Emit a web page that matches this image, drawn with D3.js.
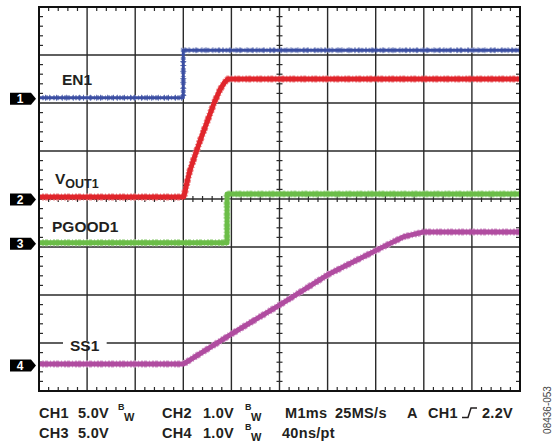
<!DOCTYPE html>
<html><head><meta charset="utf-8">
<script src="https://cdn.jsdelivr.net/npm/d3@7"></script>
<style>
html,body{margin:0;padding:0;background:#fff;}
svg{display:block;font-family:Arial,"Liberation Sans",Helvetica,sans-serif;}
</style></head>
<body>
<svg id="c" width="553" height="446"></svg>
<script>
// ---- data ----
const channelNames = ["EN1", "VOUT1", "PGOOD1", "SS1"];
const channelNumbers = ["1", "2", "3", "4"];
const channelColors = ["#3b4ea2", "#e0252b", "#6bbd48", "#b04ca0"];
const voltsPerDiv = [5, 1, 5, 1];
const groundDiv = [6.09, 3.99, 3.07, 0.53];   // channel ground markers, in divisions from bottom
// time in ms (1 ms/div), value in volts
const en1 = [[0, 0.1], [3.0, 0.1], [3.0, 5.05], [10, 5.05]];
const vout1 = [[0, 0.05], [3.01, 0.05], [3.09, 0.41], [3.14, 0.61], [3.26, 0.97], [3.38, 1.31], [3.51, 1.66], [3.64, 2.01], [3.76, 2.28], [3.85, 2.43], [3.93, 2.51], [10, 2.51]];
const pgood1 = [[0, 0.1], [3.91, 0.1], [3.91, 5.16], [10, 5.16]];
const ss1 = [[0, 0.03], [3.0, 0.03], [4.04, 0.68], [5.0, 1.26], [6.0, 1.89], [7.03, 2.41], [7.57, 2.68], [7.98, 2.78], [10, 2.78]];
const traces = [en1, vout1, pgood1, ss1];
const xDivs = d3.range(0, 11);
const yDivs = d3.range(0, 9);
const footerRow1 = ["CH1", "5.0V", "CH2", "1.0V", "M1ms", "25MS/s", "A", "CH1", "2.2V"];
const footerRow2 = ["CH3", "5.0V", "CH4", "1.0V", "40ns/pt"];
const figId = "08436-053";

// ---- layout ----
const svg = d3.select("#c");
const L = 39, R = 520, T = 7, B = 391;
const x = d3.scaleLinear().domain([0, 10]).range([L, R]);
const y = d3.scaleLinear().domain([0, 8]).range([B, T]);

// grid
const g = svg.append("g");
g.selectAll(".vx").data(xDivs.slice(1, -1)).join("line")
  .attr("x1", d => x(d)).attr("x2", d => x(d)).attr("y1", T).attr("y2", B)
  .attr("stroke", "#2a2a2a").attr("stroke-width", 1.4);
g.selectAll(".hy").data(yDivs.slice(1, -1)).join("line")
  .attr("y1", d => y(d)).attr("y2", d => y(d)).attr("x1", L).attr("x2", R)
  .attr("stroke", "#2a2a2a").attr("stroke-width", 1.4);

// minor ticks
const minorX = d3.range(0, 50).map(i => i / 5).filter(v => v % 1 !== 0);
const minorY = d3.range(0, 40).map(i => i / 5).filter(v => v % 1 !== 0);
const tk = svg.append("g").attr("stroke", "#2a2a2a").attr("stroke-width", 1.2);
minorX.forEach(v => {
  tk.append("line").attr("x1", x(v)).attr("x2", x(v)).attr("y1", T).attr("y2", T + 4);
  tk.append("line").attr("x1", x(v)).attr("x2", x(v)).attr("y1", B).attr("y2", B - 4);
  tk.append("line").attr("x1", x(v)).attr("x2", x(v)).attr("y1", y(4) - 3).attr("y2", y(4) + 3);
});
minorY.forEach(v => {
  tk.append("line").attr("y1", y(v)).attr("y2", y(v)).attr("x1", L).attr("x2", L + 4);
  tk.append("line").attr("y1", y(v)).attr("y2", y(v)).attr("x1", R).attr("x2", R - 4);
  tk.append("line").attr("y1", y(v)).attr("y2", y(v)).attr("x1", x(5) - 3).attr("x2", x(5) + 3);
});

// traces
const line = (ci) => d3.line()
  .x(d => x(d[0]))
  .y(d => y(groundDiv[ci] + d[1] / voltsPerDiv[ci]));
const widths = [3, 5, 5, 5];
const order = [3, 2, 1, 0];
order.forEach(ci => {
  const light = d3.interpolateRgb(channelColors[ci], "#fff")(0.45);
  svg.append("path").attr("d", line(ci)(traces[ci]))
    .attr("fill", "none").attr("stroke", light).attr("stroke-width", widths[ci] + 2)
    .attr("stroke-dasharray", "1,2,2,1,3,2").attr("stroke-linejoin", "miter");
  svg.append("path").attr("d", line(ci)(traces[ci]))
    .attr("fill", "none").attr("stroke", channelColors[ci]).attr("stroke-width", widths[ci])
    .attr("stroke-linejoin", "round");
});
// EN1 fuzz ticks
svg.append("path").attr("d", line(0)(en1)).attr("fill", "none")
  .attr("stroke", channelColors[0]).attr("stroke-width", 6)
  .attr("stroke-dasharray", "1,5,1,3,1,6").attr("opacity", 0.7);

// frame
svg.append("rect").attr("x", L).attr("y", T).attr("width", R - L).attr("height", B - T)
  .attr("fill", "none").attr("stroke", "#111").attr("stroke-width", 2);

// channel labels
const lab = svg.append("g").attr("font-weight", "bold").attr("fill", "#231f20");
lab.append("text").attr("x", 62).attr("y", 85).attr("font-size", 15.5).text(channelNames[0]);
const vt = lab.append("text").attr("x", 55).attr("y", 184).attr("font-size", 15.5);
vt.append("tspan").text("V");
vt.append("tspan").attr("font-size", 12.5).attr("dy", 4).text("OUT1");
lab.append("text").attr("x", 52).attr("y", 232).attr("font-size", 15.5).text(channelNames[2]);
const ssT = lab.append("text").attr("x", 70).attr("y", 351).attr("font-size", 15.5).text(channelNames[3]);
const bb = ssT.node().getBBox();
lab.insert("rect", () => ssT.node()).attr("x", bb.x - 7).attr("y", y(1) - 2)
  .attr("width", bb.width + 14).attr("height", 4).attr("fill", "#fff");

// channel markers
const mk = svg.append("g");
channelNumbers.forEach((n, i) => {
  const cy = y(groundDiv[i]);
  mk.append("path").attr("d", `M10,${cy - 6}H31L36,${cy}L31,${cy + 6}H10Z`).attr("fill", "#000");
  mk.append("text").attr("x", 20).attr("y", cy + 4.5).attr("text-anchor", "middle")
    .attr("font-size", 12).attr("font-weight", "bold").attr("fill", "#fff").text(n);
});

// footer
const ft = svg.append("g").attr("font-weight", "bold").attr("font-size", 14.5)
  .attr("letter-spacing", 0.3).attr("fill", "#231f20");
const r1 = 418, r2 = 438;
const bw = (x0, by) => {
  ft.append("text").attr("x", x0).attr("y", by - 8).attr("font-size", 9).text("B");
  ft.append("text").attr("x", x0 + 6).attr("y", by + 3).attr("font-size", 11).text("W");
};
ft.append("text").attr("x", 39).attr("y", r1).text(footerRow1[0]);
ft.append("text").attr("x", 78).attr("y", r1).text(footerRow1[1]);
bw(118, r1);
ft.append("text").attr("x", 162).attr("y", r1).text(footerRow1[2]);
ft.append("text").attr("x", 203).attr("y", r1).text(footerRow1[3]);
bw(245, r1);
ft.append("text").attr("x", 285).attr("y", r1).text(footerRow1[4]);
ft.append("text").attr("x", 335).attr("y", r1).text(footerRow1[5]);
ft.append("text").attr("x", 407).attr("y", r1).text(footerRow1[6]);
ft.append("text").attr("x", 428).attr("y", r1).text(footerRow1[7]);
svg.append("path").attr("d", `M462,${r1 - 0.5}H468L471,${r1 - 10}H477`).attr("fill", "none")
  .attr("stroke", "#231f20").attr("stroke-width", 1.5);
ft.append("text").attr("x", 482).attr("y", r1).text(footerRow1[8]);
ft.append("text").attr("x", 39).attr("y", r2).text(footerRow2[0]);
ft.append("text").attr("x", 78).attr("y", r2).text(footerRow2[1]);
ft.append("text").attr("x", 162).attr("y", r2).text(footerRow2[2]);
ft.append("text").attr("x", 203).attr("y", r2).text(footerRow2[3]);
bw(245, r2);
ft.append("text").attr("x", 282).attr("y", r2).text(footerRow2[4]);

// figure id
svg.append("text").attr("transform", "translate(551,410) rotate(-90)").attr("text-anchor", "middle")
  .attr("font-size", 10).attr("fill", "#444").text(figId);
</script>
</body></html>
